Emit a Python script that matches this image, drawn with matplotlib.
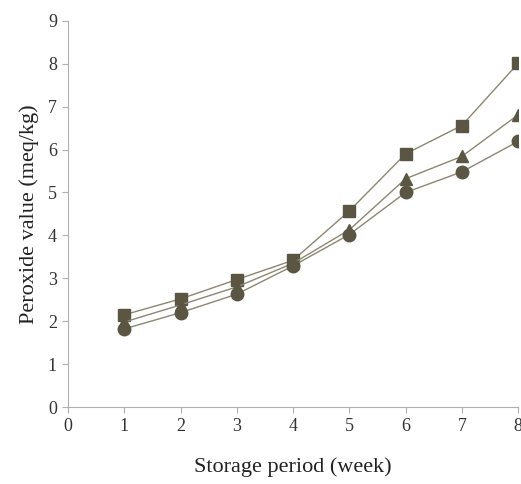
import matplotlib
matplotlib.use('Agg')
import matplotlib.pyplot as plt

plt.rcParams['font.family'] = ['Liberation Serif', 'DejaVu Serif']

weeks = [1, 2, 3, 4, 5, 6, 7, 8]
pv_square = [2.15, 2.52, 2.97, 3.42, 4.57, 5.90, 6.56, 8.01]
pv_triangle = [1.98, 2.38, 2.80, 3.35, 4.13, 5.32, 5.84, 6.81]
pv_circle = [1.82, 2.20, 2.63, 3.29, 4.02, 5.00, 5.48, 6.19]

xticks = [0, 1, 2, 3, 4, 5, 6, 7, 8]
yticks = [0, 1, 2, 3, 4, 5, 6, 7, 8, 9]

mcol = '#5b5644'
lcol = '#8c8672'

fig = plt.figure(figsize=(5.21, 4.84), dpi=100)
ax = fig.add_axes([0.1305, 0.159, 0.864, 0.798])

for vals, mk, ms in [(pv_square, 's', 8.5), (pv_triangle, '^', 9), (pv_circle, 'o', 9)]:
    ax.plot(weeks, vals, color=lcol, lw=1.0, marker=mk, ms=ms,
            mfc=mcol, mec=mcol)

ax.set_xlim(0, 8)
ax.set_ylim(0, 9)
ax.set_xticks(xticks)
ax.set_yticks(yticks)
ax.tick_params(labelsize=13, length=4, width=0.8, direction='out', pad=4,
               colors='#b0b0b0', labelcolor='#333333')
for s in ['top', 'right']:
    ax.spines[s].set_visible(False)
for s in ['left', 'bottom']:
    ax.spines[s].set_color('#b0b0b0')
    ax.spines[s].set_linewidth(0.8)

ax.set_xlabel('Storage period (week)', fontsize=16, color='#222222', labelpad=16)
ax.set_ylabel('Peroxide value (meq/kg)', fontsize=16, color='#222222', labelpad=6)

fig.savefig('out.png', dpi=100)
